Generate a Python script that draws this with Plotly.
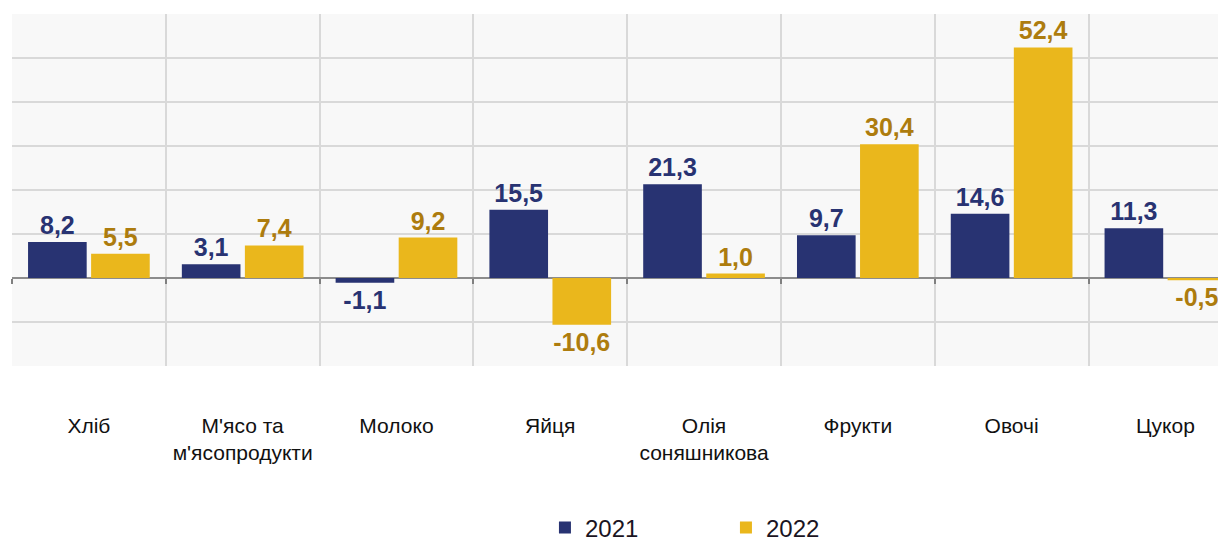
import plotly.graph_objects as go

# Дані: зміна цін, %
categories = ["Хліб", "М'ясо та<br>м'ясопродукти", "Молоко", "Яйця",
              "Олія<br>соняшникова", "Фрукти", "Овочі", "Цукор"]
values_2021 = [8.2, 3.1, -1.1, 15.5, 21.3, 9.7, 14.6, 11.3]
values_2022 = [5.5, 7.4, 9.2, -10.6, 1.0, 30.4, 52.4, -0.5]

NAVY = "#283372"
GOLD = "#EAB71C"
GOLD_TEXT = "#AD7C0E"
FONT = "Liberation Sans, Arial, sans-serif"


def fmt(v):
    return f"{v:.1f}".replace(".", ",")


fig = go.Figure()

fig.add_trace(go.Bar(
    name="2021", x=categories, y=values_2021,
    marker=dict(color=NAVY, line=dict(width=0)),
    text=[fmt(v) for v in values_2021], textposition="outside",
    outsidetextfont=dict(family=FONT, size=25, color=NAVY, weight="bold"),
    textfont=dict(family=FONT, size=25, color=NAVY, weight="bold"),
    constraintext="none", cliponaxis=False,
))
fig.add_trace(go.Bar(
    name="2022", x=categories, y=values_2022,
    marker=dict(color=GOLD, line=dict(width=0)),
    text=[fmt(v) for v in values_2022], textposition="outside",
    outsidetextfont=dict(family=FONT, size=25, color=GOLD_TEXT, weight="bold"),
    textfont=dict(family=FONT, size=25, color=GOLD_TEXT, weight="bold"),
    constraintext="none", cliponaxis=False,
))

# невидимий ряд для осі з рисками на нульовій лінії
fig.add_trace(go.Bar(x=categories, y=[None] * len(categories), xaxis="x2",
                     showlegend=False, hoverinfo="skip"))

xrange = [-0.5, 7.394]

# сторінка має відступ 8px: фігура трохи більша за вікно, поля зсунуті
fig.update_layout(
    width=1234, height=548,
    barmode="group", bargap=0.18, bargroupgap=0.07,
    paper_bgcolor="white", plot_bgcolor="#f8f8f8",
    font=dict(family=FONT, color="#1a1a1a"),
    margin=dict(l=4, r=16, t=6, b=190),
    xaxis=dict(
        range=xrange, tickson="boundaries", showgrid=True,
        gridcolor="#d9d9d9", gridwidth=2, ticks="", tickangle=0,
        tickfont=dict(family=FONT, size=21, color="#111111"),
        ticklabelstandoff=45, showline=False, zeroline=False,
    ),
    xaxis2=dict(
        overlaying="x", anchor="free", position=0.25, range=xrange,
        categoryarray=categories, categoryorder="array",
        tickson="boundaries", ticks="outside", ticklen=5, tickwidth=1.5,
        tickcolor="#808080", showticklabels=False, showgrid=False,
        showline=False, zeroline=False,
    ),
    yaxis=dict(
        range=[-20, 60], dtick=10, showticklabels=False,
        showgrid=True, gridcolor="#d9d9d9", gridwidth=2,
        zeroline=True, zerolinecolor="#8c8c8c", zerolinewidth=1.5,
    ),
    legend=dict(
        orientation="h", x=0.439, xanchor="left", y=-0.46, yanchor="middle",
        font=dict(family=FONT, size=24, color="#1a1422"),
        entrywidth=136, itemwidth=30, bgcolor="rgba(0,0,0,0)",
    ),
    showlegend=True,
)

fig.write_html("out.html")
